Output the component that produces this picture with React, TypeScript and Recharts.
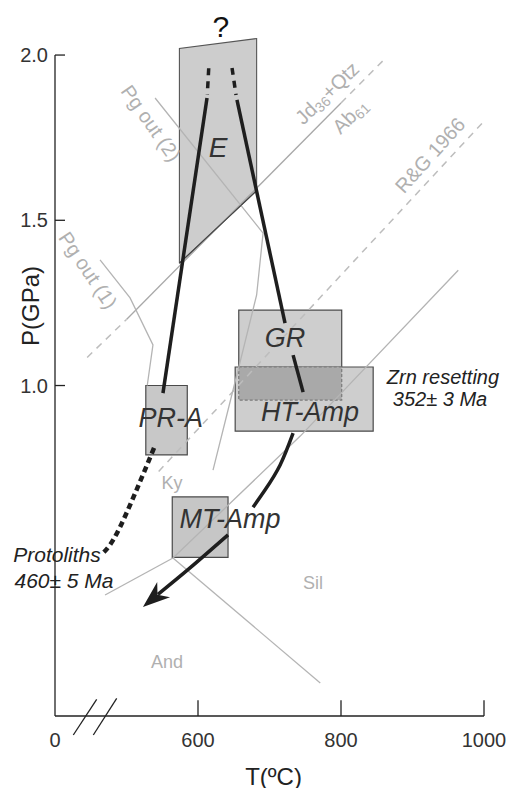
import React from "react"
import {
	ComposedChart,
	XAxis,
	YAxis,
	Line,
	Area,
	Scatter,
	ReferenceArea,
	ReferenceLine,
	ReferenceDot,
	Label,
} from "recharts"

const FONT = "'Liberation Sans', Arial, Helvetica, sans-serif"

// axes
const xTicks = [400, 600, 800, 1000]
const xTickLabels = ["0", "600", "800", "1000"]
const yTicks = [1.0, 1.5, 2.0]

// eclogite field (T, [Pmin, Pmax])
const eField = [
	{ T: 574, P: [1.37, 2.02] },
	{ T: 682, P: [1.59, 2.05] },
]

// P-T boxes: T range (°C), P range (GPa)
const prA = { T: [527, 585], P: [0.79, 1.0] }
const gr = { T: [657, 801], P: [0.956, 1.228] }
const htAmp = { T: [652, 845], P: [0.862, 1.056] }
const mtAmp = { T: [564, 642], P: [0.48, 0.663] }

// reaction curves
const jdQtz = [{ T: 500, P: 1.2 }, { T: 800, P: 1.855 }]
const jdQtzLow = [{ T: 445, P: 1.085 }, { T: 500, P: 1.2 }]
const jdQtzHigh = [{ T: 800, P: 1.855 }, { T: 862, P: 1.99 }]
const rg1966 = [{ T: 545, P: 0.74 }, { T: 1000, P: 1.8 }]
const pgOut1 = [
	{ T: 463, P: 1.38 },
	{ T: 505, P: 1.265 },
	{ T: 537, P: 1.123 },
	{ T: 529, P: 1.0 },
]
const pgOut2 = [
	{ T: 540, P: 1.87 },
	{ T: 691, P: 1.461 },
	{ T: 682, P: 1.274 },
	{ T: 663, P: 1.107 },
	{ T: 642, P: 0.926 },
	{ T: 621, P: 0.744 },
]
const andKy = [{ T: 470, P: 0.366 }, { T: 565, P: 0.478 }]
const kySil = [{ T: 565, P: 0.478 }, { T: 743, P: 0.847 }, { T: 964, P: 1.349 }]
const andSil = [{ T: 565, P: 0.478 }, { T: 771, P: 0.1 }]

// P-T path
const pathUpTip = [{ T: 615, P: 1.96 }, { T: 613, P: 1.88 }]
const pathUp = [{ T: 551, P: 0.977 }, { T: 612.6, P: 1.87 }]
const pathDownTip = [{ T: 647.6, P: 1.961 }, { T: 653.2, P: 1.879 }]
const pathDown = [{ T: 654.5, P: 1.864 }, { T: 721.7, P: 1.189 }]
const pathDownGR = [{ T: 733, P: 1.092 }, { T: 747, P: 0.98 }]
const pathExhumA = [
	{ T: 733, P: 0.856 },
	{ T: 714.7, P: 0.759 },
	{ T: 693.7, P: 0.684 },
	{ T: 677, P: 0.632 },
]
const pathExhumB = [{ T: 642, P: 0.548 }, { T: 588.8, P: 0.448 }, { T: 544, P: 0.368 }]
const arrowTip = [{ T: 523, P: 0.33 }]
const protolithPath = [{ T: 538.5, P: 0.811 }, { T: 491, P: 0.572 }, { T: 467, P: 0.493 }]

const eOutline = [
	{ T: eField[0].T, P: eField[0].P[0] },
	{ T: eField[0].T, P: eField[0].P[1] },
	{ T: eField[1].T, P: eField[1].P[1] },
	{ T: eField[1].T, P: eField[1].P[0] },
	{ T: eField[0].T, P: eField[0].P[0] },
]

const overlap = {
	T: [Math.max(gr.T[0], htAmp.T[0]), Math.min(gr.T[1], htAmp.T[1])],
	P: [Math.max(gr.P[0], htAmp.P[0]), Math.min(gr.P[1], htAmp.P[1])],
}

type TxtOpts = { size?: number; color?: string; italic?: boolean; angle?: number }

function txt(content: React.ReactNode, o: TxtOpts = {}) {
	return (props: any) => {
		const vb = props.viewBox || {}
		const x = (vb.x ?? vb.cx ?? 0) + (vb.width ?? 0) / 2
		const y = (vb.y ?? vb.cy ?? 0) + (vb.height ?? 0) / 2
		return (
			<text
				x={x}
				y={y}
				textAnchor="middle"
				dominantBaseline="central"
				fontFamily={FONT}
				fontSize={o.size ?? 20}
				fill={o.color ?? "#333"}
				fontStyle={o.italic ? "italic" : "normal"}
				transform={o.angle ? `rotate(${o.angle} ${x} ${y})` : undefined}
			>
				{content}
			</text>
		)
	}
}

const arrowShape = (props: any) => {
	const { cx, cy } = props
	return (
		<polygon
			points="0,0 -27,-10 -19,0 -27,10"
			fill="#1e1e1e"
			transform={`translate(${cx} ${cy}) rotate(140)`}
		/>
	)
}

const GRAY = "#b4b4b4"
const LABEL_GRAY = "#b0b0b0"
const DARK = "#1e1e1e"
const BOX_STROKE = "#4a4a4a"

function thin(data: any[], key: string, dash?: string, color = GRAY, width = 1.3) {
	return (
		<Line
			key={key}
			data={data}
			dataKey="P"
			type="linear"
			stroke={color}
			strokeWidth={width}
			strokeDasharray={dash}
			dot={false}
			activeDot={false}
			isAnimationActive={false}
		/>
	)
}

function thick(data: any[], key: string, dash?: string, curve: any = "linear", width = 3.5) {
	return (
		<Line
			key={key}
			data={data}
			dataKey="P"
			type={curve}
			stroke={DARK}
			strokeWidth={width}
			strokeDasharray={dash}
			dot={false}
			activeDot={false}
			isAnimationActive={false}
		/>
	)
}

export default function App() {
	return (
		<div>
			<style>{`body{margin:0}`}</style>
			<ComposedChart
				width={517}
				height={788}
				margin={{ top: 22, right: 33, bottom: 0, left: 0 }}
			>
				<XAxis
					type="number"
					dataKey="T"
					domain={[400, 1000]}
					ticks={xTicks}
					allowDataOverflow
					tickFormatter={(v: number) => xTickLabels[xTicks.indexOf(v)] ?? String(v)}
					tick={{ fontSize: 20, fill: "#333", fontFamily: FONT }}
					tickLine={false}
					tickSize={0}
					tickMargin={17}
					axisLine={{ stroke: "#222", strokeWidth: 1.3 }}
					height={72}
				>
					<Label
						content={(p: any) => {
							const vb = p.viewBox || {}
							return (
								<text
									x={vb.x + vb.width / 2 + 4}
									y={vb.y + 60}
									textAnchor="middle"
									dominantBaseline="central"
									fontFamily={FONT}
									fontSize={24}
									fill="#222"
								>
									T(ºC)
								</text>
							)
						}}
					/>
				</XAxis>
				<YAxis
					type="number"
					domain={[0, 2.1]}
					ticks={yTicks}
					allowDataOverflow
					tickFormatter={(v: number) => v.toFixed(1)}
					tick={{ fontSize: 20, fill: "#333", fontFamily: FONT }}
					tickLine={false}
					tickSize={0}
					tickMargin={7}
					axisLine={false}
					width={55}
				>
					<Label
						content={(p: any) => {
							const vb = p.viewBox || {}
							const x = vb.x + 30
							const y = vb.y + 284
							return (
								<text
									x={x}
									y={y}
									textAnchor="middle"
									dominantBaseline="central"
									fontFamily={FONT}
									fontSize={24}
									fill="#222"
									transform={`rotate(-90 ${x} ${y})`}
								>
									P(GPa)
								</text>
							)
						}}
					/>
				</YAxis>

				{/* axis line, inner ticks and axis break */}
				<ReferenceLine segment={[{ x: 400, y: 0 }, { x: 400, y: 2.0 }]} stroke="#222" strokeWidth={1.3} />
				{yTicks.map((p) => (
					<ReferenceLine key={"yt" + p} segment={[{ x: 400, y: p }, { x: 414, y: p }]} stroke="#222" strokeWidth={1.3} />
				))}
				{xTicks.slice(1).map((t) => (
					<ReferenceLine key={"xt" + t} segment={[{ x: t, y: 0 }, { x: t, y: 0.048 }]} stroke="#222" strokeWidth={1.3} />
				))}
				<ReferenceLine segment={[{ x: 425.6, y: -0.0575 }, { x: 458.3, y: 0.0505 }]} stroke="#222" strokeWidth={1.3} ifOverflow="visible" />
				<ReferenceLine segment={[{ x: 453.6, y: -0.0575 }, { x: 486.3, y: 0.0536 }]} stroke="#222" strokeWidth={1.3} ifOverflow="visible" />

				{/* eclogite field */}
				<Area
					data={eField}
					dataKey="P"
					type="linear"
					fill="#cdcdcd"
					fillOpacity={1}
					stroke="none"
					dot={false}
					activeDot={false}
					isAnimationActive={false}
				/>
				{thin(eOutline, "eout", undefined, "#555", 1.1)}

				{/* boxes */}
				<ReferenceArea x1={prA.T[0]} x2={prA.T[1]} y1={prA.P[0]} y2={prA.P[1]} fill="#c8c8c8" fillOpacity={1} stroke={BOX_STROKE} strokeWidth={1.2} />
				<ReferenceArea x1={gr.T[0]} x2={gr.T[1]} y1={gr.P[0]} y2={gr.P[1]} fill="#cecece" fillOpacity={1} stroke={BOX_STROKE} strokeWidth={1.2} />
				<ReferenceArea x1={htAmp.T[0]} x2={htAmp.T[1]} y1={htAmp.P[0]} y2={htAmp.P[1]} fill="#cecece" fillOpacity={1} stroke={BOX_STROKE} strokeWidth={1.2} />
				<ReferenceArea x1={overlap.T[0]} x2={overlap.T[1]} y1={overlap.P[0]} y2={overlap.P[1]} fill="#a9a9a9" fillOpacity={1} stroke="#7a7a7a" strokeWidth={1.2} strokeDasharray="3 2" />
				<ReferenceArea x1={mtAmp.T[0]} x2={mtAmp.T[1]} y1={mtAmp.P[0]} y2={mtAmp.P[1]} fill="#c6c6c6" fillOpacity={1} stroke={BOX_STROKE} strokeWidth={1.2} />

				{/* reaction curves */}
				{thin(jdQtz, "jd", undefined, "#a8a8a8")}
				{thin(jdQtzLow, "jdl", "7 6", "#bdbdbd", 1.5)}
				{thin(jdQtzHigh, "jdh", "7 6", "#bdbdbd", 1.5)}
				{thin(rg1966, "rg", "7 6", "#bdbdbd", 1.5)}
				{thin(pgOut1, "pg1")}
				{thin(pgOut2, "pg2")}
				{thin(andKy, "aky")}
				{thin(kySil, "kys")}
				{thin(andSil, "as")}
				{thin([eOutline[0], eOutline[3]], "ebase", undefined, "#444", 1.1)}

				{/* P-T path */}
				{thick(pathUpTip, "uptip", "7 6")}
				{thick(pathUp, "up")}
				{thick(pathDownTip, "dntip", "7 6")}
				{thick(pathDown, "dn")}
				{thick(pathDownGR, "dngr")}
				{thick(pathExhumA, "exA", undefined, "natural")}
				{thick(pathExhumB, "exB", undefined, "natural")}
				{thick(protolithPath, "prot", "6 4", "natural", 4.5)}
				<Scatter data={arrowTip} dataKey="P" shape={arrowShape} isAnimationActive={false} />

				{/* labels */}
				<ReferenceDot x={632} y={2.085} r={0} stroke="none" label={txt("?", { size: 30, color: "#111" })} />
				<ReferenceDot x={628} y={1.719} r={0} stroke="none" label={txt("E", { size: 28, italic: true })} />
				<ReferenceDot x={721.7} y={1.144} r={0} stroke="none" label={txt("GR", { size: 27, italic: true })} />
				<ReferenceDot x={562} y={0.902} r={0} stroke="none" label={txt("PR-A", { size: 27, italic: true })} />
				<ReferenceDot x={756.6} y={0.92} r={0} stroke="none" label={txt("HT-Amp", { size: 27, italic: true })} />
				<ReferenceDot x={644.8} y={0.596} r={0} stroke="none" label={txt("MT-Amp", { size: 27, italic: true })} />
				<ReferenceDot x={942.6} y={1.025} r={0} stroke="none" label={txt("Zrn resetting", { size: 20, italic: true, color: "#222" })} />
				<ReferenceDot x={938.5} y={0.958} r={0} stroke="none" label={txt("352± 3 Ma", { size: 20, italic: true, color: "#222" })} />
				<ReferenceDot x={402.8} y={0.49} r={0} stroke="none" label={txt("Protoliths", { size: 21, italic: true, color: "#222" })} />
				<ReferenceDot x={412.6} y={0.41} r={0} stroke="none" label={txt("460± 5 Ma", { size: 21, italic: true, color: "#222" })} />
				<ReferenceDot x={534.3} y={1.794} r={0} stroke="none" label={txt("Pg out (2)", { size: 20, color: LABEL_GRAY, angle: 55 })} />
				<ReferenceDot x={446.2} y={1.349} r={0} stroke="none" label={txt("Pg out (1)", { size: 20, color: LABEL_GRAY, angle: 56 })} />
				<ReferenceDot
					x={780.4}
					y={1.885}
					r={0}
					stroke="none"
					label={txt(
						<>
							Jd<tspan dy={5} fontSize={14}>36</tspan>
							<tspan dy={-5}>+Qtz</tspan>
						</>,
						{ size: 20, color: LABEL_GRAY, angle: -44 },
					)}
				/>
				<ReferenceDot
					x={812.6}
					y={1.815}
					r={0}
					stroke="none"
					label={txt(
						<>
							Ab<tspan dy={5} fontSize={14}>61</tspan>
						</>,
						{ size: 20, color: LABEL_GRAY, angle: -44 },
					)}
				/>
				<ReferenceDot x={924.5} y={1.697} r={0} stroke="none" label={txt("R&G 1966", { size: 20, color: LABEL_GRAY, angle: -48 })} />
				<ReferenceDot x={563.6} y={0.705} r={0} stroke="none" label={txt("Ky", { size: 18, color: LABEL_GRAY })} />
				<ReferenceDot x={760.8} y={0.402} r={0} stroke="none" label={txt("Sil", { size: 18, color: LABEL_GRAY })} />
				<ReferenceDot x={556.6} y={0.163} r={0} stroke="none" label={txt("And", { size: 18, color: LABEL_GRAY })} />
			</ComposedChart>
		</div>
	)
}
